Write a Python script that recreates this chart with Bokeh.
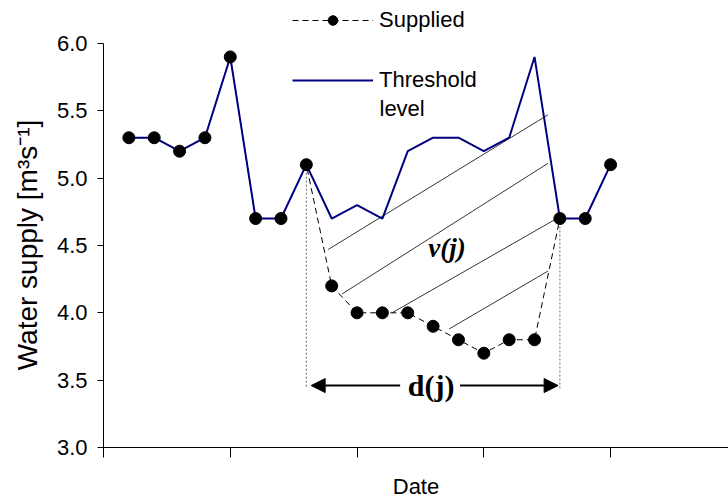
from bokeh.plotting import figure
from bokeh.models import (Range1d, FixedTicker, Legend, LegendItem, Label, Arrow,
                          NormalHead, PrintfTickFormatter, ColumnDataSource)
from bokeh.embed import file_html
from bokeh.resources import INLINE

# Daily series (index = day of the record)
days = list(range(1, 21))
threshold = [5.3, 5.3, 5.2, 5.3, 5.9, 4.7, 4.7, 5.1, 4.7, 4.8,
             4.7, 5.2, 5.3, 5.3, 5.2, 5.3, 5.9, 4.7, 4.7, 5.1]
supplied = [5.3, 5.3, 5.2, 5.3, 5.9, 4.7, 4.7, 5.1, 4.2, 4.0,
            4.0, 4.0, 3.9, 3.8, 3.7, 3.8, 3.8, 4.7, 4.7, 5.1]

# Deficit event: first and last day where supply meets the threshold again
event_start = 8
event_end = 18

# Hatching that marks the deficit volume v(j)
hatch_x0 = [8.86, 9.41, 11.38, 13.63]
hatch_y0 = [4.47, 4.14, 4.00, 3.88]
hatch_x1 = [17.53, 17.53, 17.97, 17.53]
hatch_y1 = [5.47, 5.11, 4.71, 4.31]

y_ticks = [3.0, 3.5, 4.0, 4.5, 5.0, 5.5, 6.0]
x_ticks = [0, 5, 10, 15, 20]

FONT = "Liberation Sans"
SERIF = "Liberation Serif"

p = figure(width=728, height=504, output_backend="svg", toolbar_location=None,
           x_range=Range1d(0, 24.65), y_range=Range1d(3.0, 6.319),
           min_border_left=103, min_border_right=0, min_border_top=0,
           min_border_bottom=57)
p.outline_line_color = None
p.grid.visible = False
p.background_fill_color = "white"

# axes
p.xaxis.ticker = FixedTicker(ticks=x_ticks)
p.xaxis.major_label_overrides = {t: "" for t in x_ticks}
p.xaxis.major_label_standoff = 0
p.xaxis.major_tick_in = 0
p.xaxis.major_tick_out = 10
p.xaxis.minor_tick_line_color = None
p.xaxis.axis_label = "Date"
p.xaxis.axis_label_text_font = FONT
p.xaxis.axis_label_text_font_style = "normal"
p.xaxis.axis_label_text_font_size = "22px"
p.xaxis.axis_label_text_color = "black"
p.xaxis.axis_label_standoff = 16
p.xaxis.axis_line_color = "black"
p.xaxis.major_tick_line_color = "black"

p.yaxis.ticker = FixedTicker(ticks=y_ticks)
p.yaxis.bounds = (3.0, 6.0)
p.yaxis.formatter = PrintfTickFormatter(format="%.1f")
p.yaxis.major_label_text_font = FONT
p.yaxis.major_label_text_font_size = "22px"
p.yaxis.major_label_text_color = "black"
p.yaxis.major_label_standoff = 10
p.yaxis.major_tick_in = 0
p.yaxis.major_tick_out = 6
p.yaxis.minor_tick_line_color = None
# trailing em/en space keeps the title centred on the 3.0-6.0 span
p.yaxis.axis_label = "Water supply [m³s⁻¹]\u2003\u2002"
p.yaxis.axis_label_text_font = FONT
p.yaxis.axis_label_text_font_style = "normal"
p.yaxis.axis_label_text_font_size = "28px"
p.yaxis.axis_label_text_color = "black"
p.yaxis.axis_label_standoff = 11
p.yaxis.axis_line_color = "black"
p.yaxis.major_tick_line_color = "black"

# hatching of the deficit volume
p.segment(x0=hatch_x0, y0=hatch_y0, x1=hatch_x1, y1=hatch_y1,
          line_color="black", line_width=0.8)

# event bounds (dotted verticals down to the duration arrow)
bound_x = [event_start, event_end]
bound_top = [supplied[days.index(event_start)], supplied[days.index(event_end)]]
p.segment(x0=bound_x, y0=bound_top, x1=bound_x, y1=[3.44, 3.44],
          line_color="#6a6a6a", line_width=1, line_dash="2 2")

src = ColumnDataSource(dict(day=days, threshold=threshold, supplied=supplied))
sup_line = p.line("day", "supplied", source=src, line_color="black",
                  line_width=1, line_dash="6 4")
thr_line = p.line("day", "threshold", source=src, line_color="#000080",
                  line_width=2)
sup_pts = p.scatter("day", "supplied", source=src, size=12, marker="circle",
                    fill_color="black", line_color="black")

# duration arrow d(j)
arrow_y = 3.46
p.add_layout(Arrow(end=NormalHead(size=14, fill_color="black", line_color="black"),
                   x_start=11.70, y_start=arrow_y, x_end=8.19, y_end=arrow_y,
                   line_width=2, line_color="black"))
p.add_layout(Arrow(end=NormalHead(size=14, fill_color="black", line_color="black"),
                   x_start=14.06, y_start=arrow_y, x_end=17.93, y_end=arrow_y,
                   line_width=2, line_color="black"))
p.add_layout(Label(x=12.92, y=arrow_y, text="d(j)", text_font=SERIF,
                   text_font_style="bold", text_font_size="30px",
                   text_color="black",
                   text_align="center", text_baseline="middle"))
p.add_layout(Label(x=13.55, y=4.48, text="ν(j)", text_font=SERIF,
                   text_font_style="bold italic", text_font_size="27px",
                   text_color="black",
                   text_align="center", text_baseline="middle"))

# legend
def make_legend(label, renderers, loc):
    lg = Legend(items=[LegendItem(label=label, renderers=renderers)],
                location=loc, orientation="vertical",
                glyph_width=81, glyph_height=24, label_height=24,
                label_standoff=6, padding=0, margin=0, spacing=0,
                label_text_font=FONT, label_text_font_size="22px",
                label_text_color="black",
                border_line_color=None, background_fill_alpha=0)
    return lg

p.add_layout(make_legend("Supplied", [sup_line, sup_pts], (189, 414)))
p.add_layout(make_legend("Threshold", [thr_line], (189, 354)))
p.add_layout(Label(x=276, y=339, x_units="screen", y_units="screen",
                   text="level", text_font=FONT, text_font_size="22px",
                   text_color="black", text_baseline="middle"))

open("out.html", "w").write(file_html(p, INLINE))
